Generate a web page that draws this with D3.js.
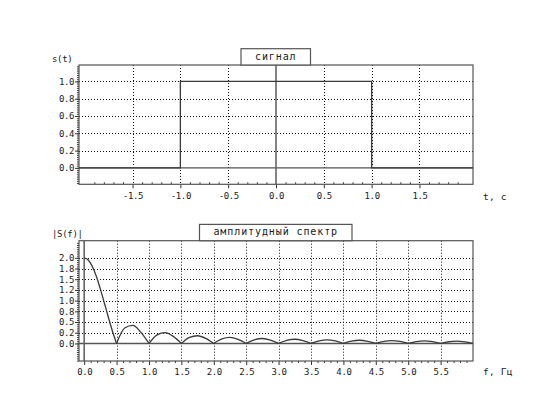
<!DOCTYPE html>
<html><head><meta charset="utf-8">
<script src="https://cdn.jsdelivr.net/npm/d3@7"></script>
<style>
body{margin:0;background:#fff;}
svg{display:block;}
text{font-family:"DejaVu Sans Mono",monospace;fill:#1a1a1a;}
</style></head>
<body><svg id="c" width="553" height="415"></svg>
<script>
// ---- data ----
const signalT = [-2.06, -1, -1, 1, 1, 2.06];
const signalS = [0, 0, 1, 1, 0, 0];

const specF = [0, 0.0625, 0.125, 0.1875, 0.25, 0.3125, 0.375, 0.4375, 0.5,
  0.625, 0.75, 0.875, 1.0, 1.125, 1.25, 1.375, 1.5, 1.625, 1.75, 1.875, 2.0,
  2.125, 2.25, 2.375, 2.5, 2.625, 2.75, 2.875, 3.0, 3.125, 3.25, 3.375, 3.5,
  3.625, 3.75, 3.875, 4.0, 4.125, 4.25, 4.375, 4.5, 4.625, 4.75, 4.875, 5.0,
  5.125, 5.25, 5.375, 5.5, 5.625, 5.75, 5.875, 6.0];
const specA = [2.0, 1.95, 1.80, 1.57, 1.27, 0.94, 0.60, 0.28, 0.0,
  0.36, 0.42, 0.26, 0.0, 0.20, 0.255, 0.165, 0.0, 0.14, 0.18, 0.12, 0.0,
  0.105, 0.14, 0.095, 0.0, 0.086, 0.115, 0.078, 0.0, 0.072, 0.098, 0.067, 0.0,
  0.062, 0.085, 0.058, 0.0, 0.055, 0.075, 0.051, 0.0, 0.049, 0.067, 0.046, 0.0,
  0.044, 0.061, 0.042, 0.0, 0.040, 0.055, 0.038, 0.0];

const topXTicks = [-1.5, -1.0, -0.5, 0.0, 0.5, 1.0, 1.5];
const topXLabels = ["-1.5", "-1.0", "-0.5", "0.0", "0.5", "1.0", "1.5"];
const topYTicks = [0.0, 0.2, 0.4, 0.6, 0.8, 1.0];
const topYLabels = ["0.0", "0.2", "0.4", "0.6", "0.8", "1.0"];
const botXTicks = [0.0, 0.5, 1.0, 1.5, 2.0, 2.5, 3.0, 3.5, 4.0, 4.5, 5.0, 5.5];
const botXLabels = ["0.0", "0.5", "1.0", "1.5", "2.0", "2.5", "3.0", "3.5", "4.0", "4.5", "5.0", "5.5"];
const botYTicks = [0.0, 0.25, 0.5, 0.75, 1.0, 1.25, 1.5, 1.75, 2.0];
const botYLabels = ["0.0", "0.2", "0.5", "0.8", "1.0", "1.2", "1.5", "1.8", "2.0"];

const topTitle = "сигнал";
const botTitle = "амплитудный спектр";
const topYName = "s(t)", topXName = "t, c";
const botYName = "|S(f)|", botXName = "f, Гц";

// ---- drawing ----
const svg = d3.select("#c");
const L = 79, R = 473;
const topX = d3.scaleLinear([-2.06, 2.06], [L, R]);
const topY = d3.scaleLinear([-0.19, 1.19], [184.3, 65]);
const botX = d3.scaleLinear([-0.08, 6.0], [L, R]);
const botY = d3.scaleLinear([-0.41, 2.4], [361, 240.7]);

const GRID = "#111", AX = "#555", LINE = "#3a3a3a";

function panel(x, y, o) {
  const g = svg.append("g");
  const [x0, x1] = x.range(), [y0, y1] = y.range();
  // grid
  g.selectAll(".vg").data(o.xt.filter(v => v !== 0)).join("line")
    .attr("x1", d => Math.round(x(d)) + 0.5).attr("x2", d => Math.round(x(d)) + 0.5)
    .attr("y1", y1).attr("y2", y0)
    .attr("stroke", GRID).attr("stroke-width", 1).attr("stroke-dasharray", "1,2");
  g.selectAll(".hg").data(o.yt.filter(v => v !== 0)).join("line")
    .attr("x1", x0).attr("x2", x1)
    .attr("y1", d => Math.round(y(d)) + 0.5).attr("y2", d => Math.round(y(d)) + 0.5)
    .attr("stroke", GRID).attr("stroke-width", 1).attr("stroke-dasharray", "1,2");
  // axis lines at zero
  g.append("line").attr("x1", x0).attr("x2", x1).attr("y1", y(0)).attr("y2", y(0))
    .attr("stroke", AX).attr("stroke-width", 1.4);
  g.append("line").attr("x1", x(0)).attr("x2", x(0)).attr("y1", y1).attr("y2", y0)
    .attr("stroke", "#666").attr("stroke-width", 1.6);
  // minor ticks x
  const xm = g.append("g").attr("transform", `translate(0,${y0})`)
    .call(d3.axisBottom(x).tickValues(o.xm).tickSize(o.xmIn ? -2 : 2).tickFormat(""));
  xm.select(".domain").remove();
  xm.selectAll("line").attr("stroke", "#333");
  // minor ticks y
  const ym = g.append("g").attr("transform", `translate(${x0},0)`)
    .call(d3.axisLeft(y).tickValues(o.ym).tickSize(2).tickFormat(""));
  ym.select(".domain").remove();
  ym.selectAll("line").attr("stroke", "#333");
  // major x
  const xa = g.append("g").attr("transform", `translate(0,${y0})`)
    .call(d3.axisBottom(x).tickValues(o.xt).tickSize(4).tickPadding(4)
      .tickFormat((d, i) => o.xl[i]));
  xa.select(".domain").remove();
  xa.selectAll("line").attr("stroke", "#333");
  xa.selectAll("text").attr("font-size", 9).attr("letter-spacing", -0.4)
    .attr("font-family", "DejaVu Sans Mono").attr("fill", "#1a1a1a");
  // major y
  const ya = g.append("g").attr("transform", `translate(${x0},0)`)
    .call(d3.axisLeft(y).tickValues(o.yt).tickSize(4).tickPadding(1)
      .tickFormat((d, i) => o.yl[i]));
  ya.select(".domain").remove();
  ya.selectAll("line").attr("stroke", "#333");
  ya.selectAll("text").attr("font-size", 9).attr("letter-spacing", -0.4)
    .attr("font-family", "DejaVu Sans Mono").attr("fill", "#1a1a1a");
  // frame
  g.append("rect").attr("x", x0).attr("y", y1).attr("width", x1 - x0).attr("height", y0 - y1)
    .attr("fill", "none").attr("stroke", "#555").attr("stroke-width", 1.2);
  // title box
  const tb = g.append("g");
  tb.append("rect").attr("x", o.bx0).attr("y", y1 - 16.3).attr("width", o.bx1 - o.bx0).attr("height", 16.3)
    .attr("fill", "#fff").attr("stroke", "#555").attr("stroke-width", 1.2);
  tb.append("text").attr("x", (o.bx0 + o.bx1) / 2).attr("y", y1 - 5.5)
    .attr("text-anchor", "middle").attr("font-size", 10).attr("letter-spacing", 0.9)
    .text(o.title);
  // names
  g.append("text").attr("x", 52).attr("y", o.ynY).attr("font-size", 9).attr("letter-spacing", -0.3)
    .text(o.yname);
  g.append("text").attr("x", 483).attr("y", o.xnY).attr("font-size", 9.5).attr("letter-spacing", 0.2)
    .text(o.xname);
  return g;
}

function range(a, b, s) { const r = []; for (let v = a; v <= b + 1e-9; v += s) r.push(+v.toFixed(4)); return r; }

const gt = panel(topX, topY, {
  xt: topXTicks, xl: topXLabels, yt: topYTicks, yl: topYLabels,
  xm: range(-1.9, 1.9, 0.1).filter(v => Math.abs(v * 2 - Math.round(v * 2)) > 1e-6), xmIn: true,
  ym: range(-0.175, 1.175, 0.025),
  bx0: 241, bx1: 310.5, title: topTitle, yname: topYName, xname: topXName, ynY: 61.5, xnY: 200
});
const gb = panel(botX, botY, {
  xt: botXTicks, xl: botXLabels, yt: botYTicks, yl: botYLabels,
  xm: range(0.1, 5.9, 0.1).filter(v => Math.abs(v * 2 - Math.round(v * 2)) > 1e-6), xmIn: false,
  ym: range(-0.4, 2.35, 0.05),
  bx0: 199.5, bx1: 352, title: botTitle, yname: botYName, xname: botXName, ynY: 237, xnY: 375
});

// signal
const sig = signalT.map((t, i) => [t, signalS[i]]);
gt.append("path").attr("d", d3.line().x(d => topX(d[0])).y(d => topY(d[1]))(sig))
  .attr("fill", "none").attr("stroke", LINE).attr("stroke-width", 1.3);

// spectrum: split into lobes at zeros
const pts = specF.map((f, i) => [f, specA[i]]);
const lobes = [];
let cur = [];
pts.forEach((p, i) => {
  cur.push(p);
  if (p[1] === 0 && i > 0) { lobes.push(cur); cur = [p]; }
});
if (cur.length > 1) lobes.push(cur);
const sl = d3.line().x(d => botX(d[0])).y(d => botY(d[1])).curve(d3.curveMonotoneX);
gb.selectAll(".lobe").data(lobes).join("path").attr("d", sl)
  .attr("fill", "none").attr("stroke", LINE).attr("stroke-width", 1.3);
</script></body></html>
